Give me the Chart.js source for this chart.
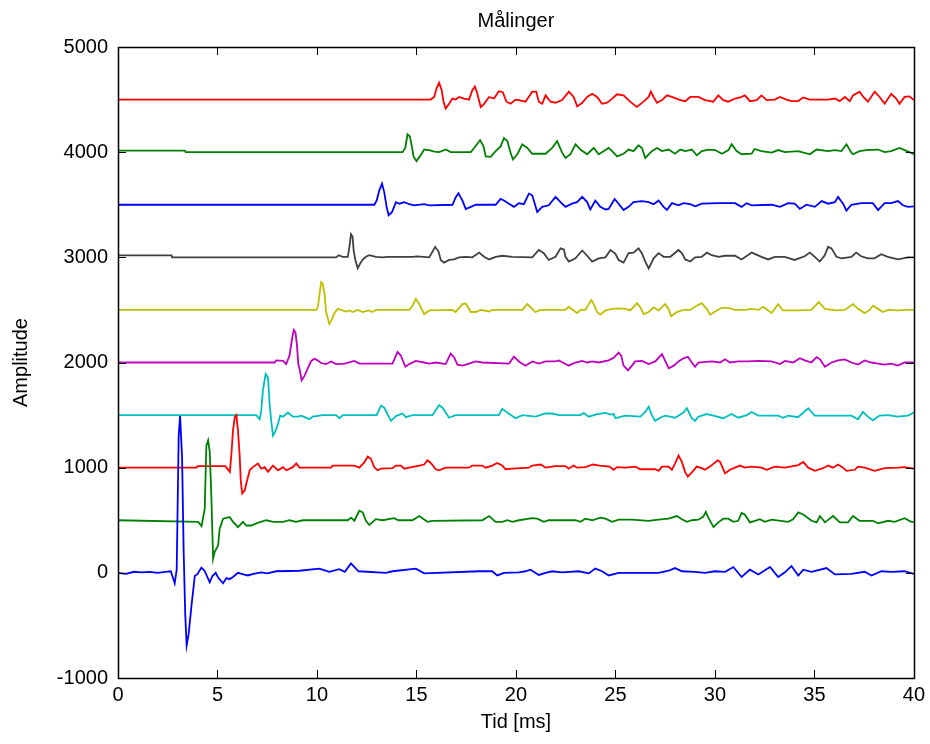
<!DOCTYPE html>
<html>
<head>
<meta charset="utf-8">
<script src="https://cdn.jsdelivr.net/npm/chart.js@4.4.1/dist/chart.umd.min.js"></script>
<style>
  html, body { margin: 0; padding: 0; background: #fff; }
  #wrap { width: 930px; height: 744px; }
</style>
</head>
<body>
<div id="wrap"><canvas id="grafico"></canvas></div>
<script>
// tick labels
const xTicks = [0, 5, 10, 15, 20, 25, 30, 35, 40];
const yTicks = [-1000, 0, 1000, 2000, 3000, 4000, 5000];

// each trace is shifted up by its offset
const offsets = [0, 500, 1000, 1500, 2000, 2500, 3000, 3500, 4000, 4500];
const colors = ["#0000ff", "#008000", "#ff0000", "#00bfbf", "#bf00bf",
                "#bfbf00", "#404040", "#0000ff", "#008000", "#ff0000"];

// [tid ms, amplitude relative to offset]
const trace0 = [[0,0],[0.4,-10],[0.8,10],[1.2,5],[1.6,10],[2.0,0],[2.4,10],[2.65,15],[2.75,-40],[2.85,-100],[2.95,30],[3.05,1300],[3.12,1490],[3.22,1100],[3.3,200],[3.38,-400],[3.45,-690],[3.55,-580],[3.7,-300],[3.86,-30],[4.0,-10],[4.19,50],[4.35,20],[4.61,-90],[4.75,-30],[4.91,0],[5.05,-50],[5.28,-100],[5.45,-50],[5.6,-60],[5.78,-40],[6.03,0],[6.3,-15],[6.53,-25],[6.8,-10],[7.2,5],[7.5,-5],[7.95,15],[9.12,20],[10.12,40],[10.62,10],[11.12,35],[11.4,10],[11.71,90],[12.09,15],[13.46,0],[13.8,15],[14.97,40],[15.39,-5],[18.14,15],[18.81,15],[19.06,-25],[19.4,0],[20.15,5],[20.48,15],[20.73,30],[21.15,-20],[21.49,0],[21.82,15],[22.32,5],[23.16,15],[23.66,-5],[23.99,40],[24.33,15],[24.66,-25],[25.16,0],[26.16,0],[26.58,0],[27.17,0],[27.67,20],[28.0,45],[28.34,15],[29.0,10],[29.5,0],[30.0,15],[30.51,10],[30.93,55],[31.34,-40],[31.76,30],[32.18,-15],[32.77,55],[33.18,-40],[33.52,5],[33.85,65],[34.19,-25],[34.44,30],[34.86,10],[35.61,45],[36.03,-15],[36.86,-10],[37.53,10],[37.87,-25],[38.37,15],[38.87,10],[39.53,15],[40,-10]];

const trace1 = [[0,0],[4.03,-15],[4.2,-55],[4.36,110],[4.44,710],[4.53,760],[4.61,650],[4.69,240],[4.78,-365],[4.86,-300],[5.03,-240],[5.11,-80],[5.28,15],[5.61,30],[5.78,-15],[6.03,-65],[6.28,-15],[6.45,-50],[6.7,-50],[6.95,-30],[7.45,0],[7.8,-15],[8.3,-15],[8.62,0],[8.95,-15],[9.29,0],[11.55,0],[11.71,25],[11.88,-5],[12.13,90],[12.3,75],[12.46,-5],[12.63,-45],[12.96,10],[13.3,0],[13.87,20],[14.1,0],[14.8,0],[15.14,40],[15.55,-15],[15.8,-5],[18.31,0],[18.65,40],[18.98,-15],[19.32,-15],[19.57,0],[19.82,-15],[20.15,0],[20.82,20],[21.07,15],[21.4,-15],[21.65,0],[23.0,0],[23.24,-15],[23.49,15],[23.83,0],[24.25,25],[24.5,15],[24.83,-15],[25.16,5],[25.83,5],[26.66,-5],[27.17,5],[27.67,15],[28.09,40],[28.34,10],[28.59,-15],[28.84,0],[29.17,5],[29.42,35],[29.54,80],[29.67,25],[29.93,-65],[30.17,-20],[30.42,15],[30.67,15],[30.93,-15],[31.17,-5],[31.34,70],[31.5,55],[31.76,-20],[32.01,-5],[32.26,10],[32.51,-15],[32.85,5],[33.68,-15],[33.93,10],[34.19,75],[34.44,55],[34.86,-5],[35.11,-20],[35.28,40],[35.53,-20],[35.94,40],[36.28,-20],[36.69,-20],[36.94,40],[37.27,-5],[37.94,-5],[38.2,-30],[38.7,-5],[39.03,-15],[39.53,20],[39.87,-15],[40,-15]];

const trace2 = [[0,0],[3.94,0],[4.0,15],[5.4,15],[5.45,0],[5.62,-40],[5.7,130],[5.78,355],[5.87,480],[5.95,500],[6.03,355],[6.11,130],[6.17,-120],[6.24,-245],[6.37,-215],[6.45,-150],[6.62,-25],[6.78,5],[7.03,40],[7.2,-10],[7.37,5],[7.54,-40],[7.79,20],[8.04,-25],[8.29,5],[8.46,-25],[8.79,5],[8.96,40],[9.12,0],[10.7,0],[10.79,20],[11.88,20],[12.13,0],[12.38,50],[12.55,105],[12.71,85],[12.88,5],[13.05,-25],[13.22,-10],[13.8,-5],[13.97,20],[14.22,20],[14.39,-10],[14.64,0],[15.14,20],[15.39,30],[15.55,70],[15.72,45],[15.97,-15],[16.14,-25],[16.47,0],[17.64,0],[17.81,20],[18.31,20],[18.48,0],[18.81,20],[19.06,45],[19.31,20],[19.48,-15],[19.81,-10],[20.65,0],[20.82,20],[21.26,30],[21.49,0],[21.99,15],[22.49,15],[22.65,-10],[22.9,20],[23.07,0],[23.5,5],[23.87,30],[24.2,20],[24.7,10],[24.91,-20],[25.08,5],[25.5,0],[26.0,10],[26.25,-15],[27.0,-15],[27.17,-30],[27.34,10],[27.67,10],[27.84,-20],[28.0,40],[28.17,115],[28.34,55],[28.5,-40],[28.64,-85],[28.84,-45],[29.09,10],[29.34,-5],[29.5,-20],[29.75,10],[30.14,70],[30.26,55],[30.51,-55],[30.76,-20],[31.01,0],[31.26,20],[31.51,0],[31.85,10],[32.35,0],[32.6,-20],[33.01,10],[33.52,0],[34.19,25],[34.44,55],[34.69,0],[35.02,-30],[35.44,-5],[35.7,20],[35.94,0],[36.19,30],[36.44,0],[36.61,-30],[37.03,-20],[37.19,10],[37.53,0],[38.03,-30],[38.53,-5],[39.2,0],[39.53,5],[40,-10]];

const trace3 = [[0,0],[6.95,0],[7.12,-40],[7.2,40],[7.28,230],[7.42,390],[7.54,360],[7.62,105],[7.7,-55],[7.79,-195],[7.92,-150],[8.04,-85],[8.15,-5],[8.29,-15],[8.54,25],[8.79,-15],[9.04,-15],[9.21,-5],[9.38,-20],[9.62,-40],[9.79,-15],[10.29,0],[10.96,0],[11.13,-30],[11.3,0],[13.0,0],[13.22,90],[13.38,70],[13.72,-55],[13.97,-10],[14.3,15],[14.47,-20],[14.8,0],[15.81,0],[16.14,95],[16.31,70],[16.64,-25],[16.97,0],[19.14,0],[19.31,60],[19.56,25],[19.98,-30],[20.32,0],[20.98,-15],[21.49,15],[21.82,15],[22.16,0],[23.24,0],[23.41,20],[23.66,-15],[24.08,10],[24.5,20],[24.75,5],[24.91,10],[25.0,-30],[25.5,-5],[26.25,-15],[26.5,30],[26.67,80],[26.83,0],[27.0,-55],[27.25,-25],[27.5,-5],[28.0,-25],[28.42,25],[28.59,65],[28.84,-30],[29.0,-55],[29.17,-15],[29.59,10],[29.92,-5],[30.42,-30],[30.84,10],[31.17,-25],[31.6,0],[31.85,30],[32.18,-5],[33.18,-5],[33.43,-25],[33.68,-5],[34.18,-20],[34.69,65],[35.02,-5],[36.86,-5],[37.19,-40],[37.44,30],[37.69,-15],[37.94,-50],[38.27,-5],[38.7,0],[39.2,-15],[39.7,-5],[40,25]];

const trace4 = [[0,0],[7.87,0],[7.95,20],[8.29,15],[8.45,-15],[8.62,65],[8.76,240],[8.84,310],[8.92,285],[8.99,175],[9.06,-15],[9.13,-65],[9.23,-170],[9.38,-125],[9.55,-50],[9.71,15],[9.87,35],[9.99,25],[10.21,-5],[10.46,-15],[10.71,10],[10.96,-15],[11.38,-10],[11.88,15],[12.13,-10],[13.8,-10],[14.05,100],[14.22,65],[14.44,-40],[14.64,-15],[14.97,15],[15.39,0],[15.64,-10],[15.97,0],[16.47,-15],[16.72,85],[16.89,50],[17.06,-20],[17.31,-30],[17.64,-10],[17.98,10],[18.31,0],[19.65,-10],[19.9,55],[20.15,10],[20.48,-30],[20.82,10],[21.15,-10],[21.49,10],[21.99,10],[22.16,20],[22.49,-15],[22.65,-30],[22.99,0],[23.33,15],[23.58,0],[23.83,10],[24.16,0],[24.66,20],[24.91,45],[25.16,95],[25.29,65],[25.41,-30],[25.63,-75],[25.83,-30],[25.99,10],[26.33,15],[26.67,-15],[27.0,10],[27.34,80],[27.5,15],[27.68,-55],[27.93,-30],[28.17,10],[28.42,40],[28.64,55],[28.84,0],[29.0,-40],[29.17,0],[29.84,10],[30.26,0],[30.51,30],[30.76,0],[31.17,10],[31.67,10],[32.18,15],[32.85,10],[33.27,-15],[33.52,15],[33.93,0],[34.27,40],[34.52,20],[34.85,0],[35.11,50],[35.28,30],[35.53,-40],[35.86,0],[36.19,20],[36.53,30],[36.86,0],[37.19,-20],[37.53,20],[37.86,0],[38.2,-10],[38.53,-20],[38.86,-10],[39.2,-30],[39.53,0],[40,0]];

const trace5 = [[0,0],[9.96,0],[10.04,25],[10.12,135],[10.21,265],[10.29,250],[10.38,150],[10.46,-20],[10.62,-135],[10.76,-85],[10.88,-30],[11.04,10],[11.21,0],[11.46,-15],[11.63,-5],[11.79,-20],[12.05,0],[12.29,-20],[12.63,-5],[12.79,-20],[12.96,0],[14.64,0],[14.8,40],[14.97,105],[15.14,55],[15.39,-40],[15.64,-5],[16.81,0],[16.97,-20],[17.31,55],[17.48,60],[17.73,-20],[17.98,-20],[18.23,0],[18.65,-15],[18.81,0],[20.32,0],[20.57,55],[20.82,10],[20.98,-20],[21.24,0],[22.49,0],[22.65,30],[22.9,-5],[23.08,-30],[23.24,0],[23.49,0],[23.66,55],[23.79,95],[23.91,55],[24.08,-20],[24.24,-45],[24.5,-5],[24.83,10],[25.16,15],[25.5,10],[25.75,-5],[26.08,65],[26.25,25],[26.42,-40],[26.67,-20],[26.92,25],[27.17,-5],[27.5,55],[27.67,10],[27.8,-60],[28.08,-20],[28.42,0],[28.76,0],[28.99,30],[29.34,65],[29.59,10],[29.76,-45],[30.01,-15],[30.34,20],[30.68,20],[31.01,0],[31.51,0],[31.85,10],[32.18,0],[32.43,30],[32.68,-5],[32.85,-30],[33.18,55],[33.43,-5],[34.18,-5],[34.85,0],[35.22,75],[35.52,10],[36.11,-5],[36.53,0],[36.94,55],[37.19,10],[37.53,-30],[37.78,0],[37.95,40],[38.2,10],[38.45,-20],[38.7,0],[39.2,-5],[39.7,0],[40,0]];

const trace6 = [[0,18],[2.69,18],[2.72,0],[10.96,0],[11.09,20],[11.29,5],[11.55,5],[11.63,100],[11.71,220],[11.79,195],[11.84,70],[11.93,-25],[12.05,-105],[12.18,-55],[12.29,-25],[12.46,5],[12.63,20],[12.96,5],[13.3,0],[13.55,5],[14.8,5],[15.05,10],[15.64,0],[15.81,55],[15.94,100],[16.11,55],[16.22,-25],[16.39,-50],[16.64,-25],[16.89,-20],[17.14,0],[17.48,5],[17.81,0],[18.15,45],[18.4,5],[18.65,-20],[18.98,5],[19.32,15],[19.82,5],[20.82,0],[21.15,70],[21.4,40],[21.65,-25],[21.99,5],[22.24,85],[22.41,75],[22.49,5],[22.66,-40],[22.99,-10],[23.33,65],[23.58,15],[23.83,-40],[24.16,-10],[24.5,0],[24.75,70],[24.99,35],[25.16,-25],[25.41,-50],[25.66,40],[25.91,45],[26.16,85],[26.33,40],[26.5,-40],[26.67,-105],[26.92,-10],[27.17,40],[27.42,5],[27.76,5],[28.17,70],[28.34,40],[28.51,-20],[28.76,-40],[29.01,0],[29.34,5],[29.6,45],[29.84,20],[30.18,5],[30.51,15],[31.01,15],[31.34,-20],[31.85,45],[32.34,5],[32.68,-20],[33.01,5],[33.51,5],[34.01,-25],[34.51,10],[34.77,45],[35.02,5],[35.27,-40],[35.52,20],[35.69,100],[35.86,85],[36.11,5],[36.36,-10],[36.86,5],[37.1,45],[37.35,10],[37.69,-10],[38.02,-10],[38.36,30],[38.69,5],[39.2,-20],[39.7,0],[40,0]];

const trace7 = [[0,0],[12.88,0],[13.0,40],[13.13,135],[13.27,200],[13.38,120],[13.5,-20],[13.6,-100],[13.77,-70],[13.97,25],[14.14,10],[14.39,25],[14.64,5],[14.89,-5],[15.39,5],[15.64,-5],[16.81,0],[16.97,70],[17.11,110],[17.31,40],[17.48,-40],[17.73,-20],[17.98,0],[18.98,0],[19.23,55],[19.4,40],[19.65,10],[19.9,-20],[20.15,15],[20.4,5],[20.65,105],[20.82,90],[21.07,-70],[21.32,-20],[21.65,-5],[21.99,75],[22.24,25],[22.49,-20],[22.82,10],[23.07,25],[23.33,75],[23.58,25],[23.74,-45],[23.99,40],[24.24,-20],[24.5,-45],[24.66,-40],[24.96,55],[25.16,10],[25.41,-50],[25.66,-20],[25.91,25],[26.33,35],[26.67,25],[26.92,5],[27.17,40],[27.42,-20],[27.59,-50],[27.84,15],[28.17,-5],[28.42,15],[28.76,5],[29.01,-15],[29.34,10],[30.18,15],[31.01,15],[31.34,-20],[31.59,15],[31.85,-5],[32.85,0],[33.27,-20],[33.68,15],[34.01,10],[34.27,-40],[34.6,0],[35.02,-20],[35.37,35],[35.69,10],[36.03,25],[36.19,75],[36.44,10],[36.61,-55],[36.86,0],[37.36,15],[37.94,15],[38.2,-50],[38.53,15],[38.86,15],[39.2,35],[39.45,-5],[39.7,-20],[40,-15]];

const trace8 = [[0,15],[3.36,15],[3.4,0],[14.3,0],[14.44,40],[14.55,170],[14.67,150],[14.77,55],[14.85,-40],[15.0,-85],[15.17,-40],[15.39,25],[15.64,20],[15.89,5],[16.14,0],[16.47,25],[16.72,0],[17.73,0],[17.9,40],[18.2,115],[18.37,55],[18.48,-40],[18.73,-45],[18.98,10],[19.23,55],[19.4,135],[19.57,105],[19.73,-5],[19.85,-70],[20.07,-20],[20.32,75],[20.57,40],[20.82,-15],[21.15,-15],[21.49,-15],[21.82,40],[22.07,105],[22.32,-5],[22.49,-55],[22.74,-20],[23.0,75],[23.24,25],[23.58,-20],[23.91,40],[24.16,-20],[24.5,20],[24.66,40],[24.91,-5],[25.08,-40],[25.41,-15],[25.66,25],[25.91,10],[26.16,65],[26.33,40],[26.5,-55],[26.83,10],[27.09,40],[27.34,10],[27.67,25],[27.99,-15],[28.26,25],[28.51,10],[28.84,25],[29.09,-30],[29.34,10],[29.67,25],[30.01,20],[30.35,-15],[30.68,20],[30.84,75],[31.09,10],[31.34,-20],[31.85,-15],[31.99,30],[32.34,10],[32.85,-5],[33.18,20],[33.52,0],[34.18,10],[34.77,-20],[35.11,25],[35.69,10],[36.03,20],[36.36,10],[36.61,75],[36.86,-5],[36.94,-20],[37.27,10],[37.6,20],[38.2,25],[38.53,0],[38.86,10],[39.28,40],[39.53,20],[39.78,0],[40,-20]];

const trace9 = [[0,0],[15.72,0],[15.89,25],[16.01,105],[16.14,160],[16.27,90],[16.36,-20],[16.47,-85],[16.64,-40],[16.81,10],[16.97,0],[17.14,25],[17.39,10],[17.64,0],[17.81,90],[17.94,125],[18.06,55],[18.23,-70],[18.4,-40],[18.65,25],[18.9,10],[19.14,80],[19.34,70],[19.52,-20],[19.73,-40],[19.98,0],[20.15,-5],[20.48,-20],[20.82,75],[21.02,75],[21.15,-20],[21.32,-40],[21.49,40],[21.74,-20],[21.99,-30],[22.32,-5],[22.66,75],[22.9,25],[23.08,-65],[23.33,-30],[23.58,25],[23.83,55],[24.08,25],[24.33,-40],[24.58,-30],[24.75,-5],[25.08,50],[25.41,40],[25.74,-20],[26.08,-70],[26.41,-20],[26.67,25],[26.78,75],[26.92,25],[27.09,-30],[27.34,-5],[27.59,40],[27.84,25],[28.26,-5],[28.51,-15],[28.76,25],[29.17,25],[29.51,-5],[29.92,-20],[30.17,40],[30.42,-5],[30.67,-20],[31.01,10],[31.26,20],[31.51,40],[31.76,-15],[32.1,-5],[32.34,40],[32.6,-5],[33.01,0],[33.27,25],[33.6,0],[33.85,-15],[34.18,-15],[34.43,20],[34.77,0],[35.19,0],[35.69,0],[36.03,10],[36.27,-15],[36.53,25],[36.78,-15],[36.94,40],[37.27,75],[37.44,30],[37.69,-20],[38.03,75],[38.28,25],[38.53,-40],[38.86,55],[39.11,10],[39.28,-40],[39.53,25],[39.78,30],[40,-5]];

const traces = [trace0, trace1, trace2, trace3, trace4, trace5, trace6, trace7, trace8, trace9];

const fontFamily = "'Liberation Sans', Arial, sans-serif";

// MATLAB style box with inward ticks on all four sides
const boksTicks = {
  id: "boksTicks",
  afterDraw(chart) {
    const { ctx, chartArea: a, scales } = chart;
    const len = 8;
    ctx.save();
    ctx.strokeStyle = "#000";
    ctx.lineWidth = 1;
    ctx.beginPath();
    xTicks.forEach((v) => {
      const px = Math.round(scales.x.getPixelForValue(v)) + 0.5;
      ctx.moveTo(px, a.bottom); ctx.lineTo(px, a.bottom - len);
      ctx.moveTo(px, a.top); ctx.lineTo(px, a.top + len);
    });
    yTicks.forEach((v) => {
      const py = Math.round(scales.y.getPixelForValue(v)) + 0.5;
      ctx.moveTo(a.left, py); ctx.lineTo(a.left + len, py);
      ctx.moveTo(a.right, py); ctx.lineTo(a.right - len, py);
    });
    ctx.stroke();
    ctx.lineWidth = 1.5;
    ctx.strokeRect(Math.round(a.left) + 0.5, Math.round(a.top) + 0.5,
      Math.round(a.right - a.left), Math.round(a.bottom - a.top));
    ctx.restore();
  }
};

const datasets = traces.map((tr, i) => ({
  data: tr.map(([t, v]) => ({ x: t, y: offsets[i] + v })),
  borderColor: colors[i],
  borderWidth: 1.8,
  pointRadius: 0,
  tension: 0,
  fill: false
}));

new Chart(document.getElementById("grafico"), {
  type: "line",
  data: { datasets },
  plugins: [boksTicks],
  options: {
    responsive: true,
    maintainAspectRatio: false,
    animation: false,
    layout: { padding: { top: 0, right: 13, left: 0, bottom: 0 } },
    plugins: {
      legend: { display: false },
      tooltip: { enabled: false },
      title: {
        display: true,
        text: "Målinger",
        fullSize: false,
        color: "#000",
        font: { family: fontFamily, size: 20, weight: "normal" },
        padding: { top: 9, bottom: 14 }
      }
    },
    scales: {
      x: {
        type: "linear",
        min: 0,
        max: 40,
        afterFit: (s) => { s.height = 66; },
        afterBuildTicks: (s) => { s.ticks = xTicks.map((v) => ({ value: v })); },
        grid: { display: false, drawTicks: false },
        border: { display: false },
        ticks: { color: "#000", padding: 5, maxRotation: 0, font: { family: fontFamily, size: 20 },
                 callback: (v) => String(v) },
        title: {
          display: true,
          text: "Tid [ms]",
          color: "#000",
          font: { family: fontFamily, size: 20 },
          padding: { top: 0, bottom: 10 }
        }
      },
      y: {
        type: "linear",
        min: -1000,
        max: 5000,
        afterFit: (s) => { s.width = 118; },
        afterBuildTicks: (s) => { s.ticks = yTicks.map((v) => ({ value: v })); },
        grid: { display: false, drawTicks: false },
        border: { display: false },
        ticks: { color: "#000", padding: 10, font: { family: fontFamily, size: 20 },
                 callback: (v) => String(v) },
        title: {
          display: true,
          text: "Amplitude",
          color: "#000",
          font: { family: fontFamily, size: 20 },
          padding: { top: 9, bottom: 0 }
        }
      }
    }
  }
});
</script>
</body>
</html>
